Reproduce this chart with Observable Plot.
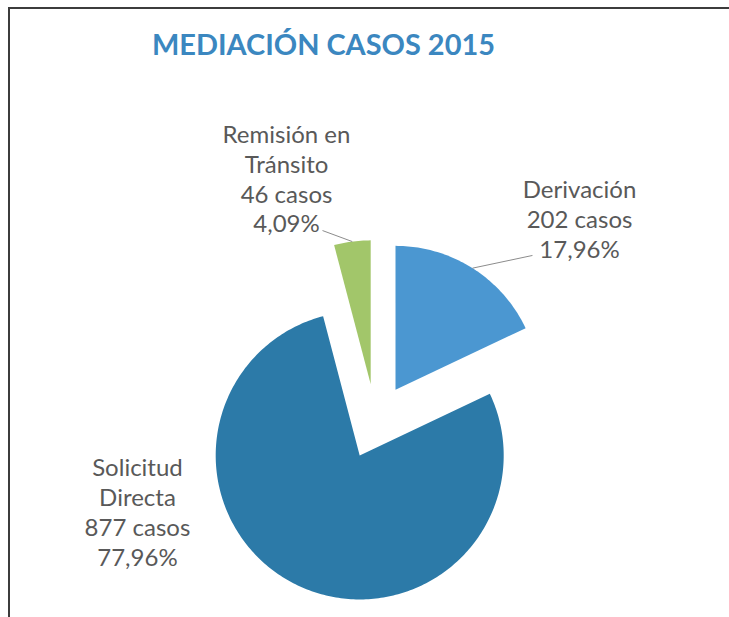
<!DOCTYPE html>
<html>
<head>
<meta charset="utf-8">
<script src="https://cdn.jsdelivr.net/npm/d3@7"></script>
<script src="https://cdn.jsdelivr.net/npm/@observablehq/plot@0.6"></script>
<style>
  body { margin: 0; background: #fff; }
  #wrap { position: relative; width: 729px; height: 617px; overflow: hidden; background: #fff; }
  #frame { position: absolute; left: 8px; top: 7px; width: 740px; height: 640px;
           border-top: 2px solid #3c3c3c; border-left: 2px solid #3c3c3c; }
  #title { position: absolute; left: 152px; top: 29px; margin: 0;
           font: bold 29px Lato, "Open Sans", sans-serif; line-height: 29px;
           color: #3b87c0; white-space: nowrap; transform-origin: 0 0; }
  #chart { position: absolute; left: 0; top: 80px; }
</style>
</head>
<body>
<div id="wrap">
  <div id="frame"></div>
  <div id="title">MEDIACIÓN CASOS 2015</div>
  <div id="chart"></div>
</div>
<script>
// ---- data ----
const categories = ["Derivación", "Solicitud Directa", "Remisión en Tránsito"];
const labelNames = ["Derivación", "Solicitud\nDirecta", "Remisión en\nTránsito"];
const casos = [202, 877, 46];
const colors = ["#4b97d1", "#2c7aa8", "#a2c66a"];

// ---- layout (data units: pie radius = 1) ----
const W = 729, H = 537, CX = 375, CY = 341, RPX = 144;
const EXPLODE = 0.26;
const labelPos = [[1.417, 1.41], [-1.653, -0.625], [-0.618, 1.69]];
const leaderEnd = [[1.09, 1.153], null, [-0.368, 1.326]];

const total = d3.sum(casos);
const pct = casos.map(v => (v / total * 100).toFixed(2).replace(".", ","));
const arcs = d3.pie().sort(null)(casos);

const poly = [];
const slices = arcs.map((a, i) => {
  const mid = (a.startAngle + a.endAngle) / 2;
  const ox = EXPLODE * Math.sin(mid), oy = EXPLODE * Math.cos(mid);
  poly.push({cat: categories[i], x: ox, y: oy});
  const n = Math.max(4, Math.ceil((a.endAngle - a.startAngle) / (Math.PI / 180)));
  for (let k = 0; k <= n; k++) {
    const t = a.startAngle + (a.endAngle - a.startAngle) * k / n;
    poly.push({cat: categories[i], x: ox + Math.sin(t), y: oy + Math.cos(t)});
  }
  poly.push({cat: categories[i], x: ox, y: oy});
  return {cat: categories[i], mx: ox + Math.sin(mid), my: oy + Math.cos(mid)};
});

const labels = categories.map((c, i) => ({
  cat: c,
  text: `${labelNames[i]}\n${casos[i]} casos\n${pct[i]}%`,
  x: labelPos[i][0], y: labelPos[i][1]
}));
const leaders = slices
  .map((s, i) => leaderEnd[i] ? {x1: s.mx, y1: s.my, x2: leaderEnd[i][0], y2: leaderEnd[i][1]} : null)
  .filter(d => d);

const chart = Plot.plot({
  width: W, height: H,
  marginTop: 0, marginRight: 0, marginBottom: 0, marginLeft: 0,
  x: {domain: [-CX / RPX, (W - CX) / RPX], range: [0, W], axis: null},
  y: {domain: [-(H - CY) / RPX, CY / RPX], range: [H, 0], axis: null},
  color: {domain: categories, range: colors},
  style: {background: "transparent", overflow: "visible"},
  marks: [
    Plot.line(poly, {x: "x", y: "y", z: "cat", fill: "cat", stroke: "none", curve: "linear"}),
    Plot.link(leaders, {x1: "x1", y1: "y1", x2: "x2", y2: "y2", stroke: "#8c8c8c", strokeWidth: 1}),
    Plot.text(labels, {x: "x", y: "y", text: "text", fill: "#595959", fontSize: 24,
      fontFamily: "Lato, 'Open Sans', sans-serif", lineHeight: 1.24, textAnchor: "middle", lineAnchor: "middle"})
  ]
});
document.getElementById("chart").appendChild(chart);

// fit title width to the reference
const t = document.getElementById("title");
const w = t.getBoundingClientRect().width;
t.style.transform = `scaleX(${343 / w})`;
</script>
</body>
</html>
